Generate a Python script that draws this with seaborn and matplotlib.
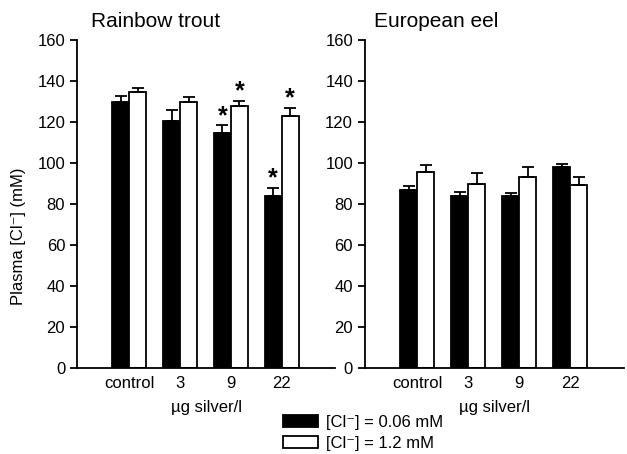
import matplotlib
matplotlib.use("Agg")
import matplotlib.pyplot as plt
import seaborn as sns
import pandas as pd
from matplotlib.patches import Patch

sns.set_style("ticks")
plt.rcParams['font.family'] = ['Liberation Sans', 'DejaVu Sans']
plt.rcParams['text.color'] = 'black'
plt.rcParams['axes.labelcolor'] = 'black'
plt.rcParams['xtick.color'] = 'black'
plt.rcParams['ytick.color'] = 'black'

groups = ["control", "3", "9", "22"]
series = ["[Cl\u207b] = 0.06 mM", "[Cl\u207b] = 1.2 mM"]

trout_low = [130, 120.5, 114.4, 84]
trout_low_err = [2.5, 5.4, 3.9, 4]
trout_high = [134.4, 129.6, 128, 123]
trout_high_err = [2.3, 2.4, 2.3, 3.7]
trout_star_low = [False, False, True, True]
trout_star_high = [False, False, True, True]

eel_low = [86.8, 83.7, 83.7, 97.9]
eel_low_err = [1.9, 2.1, 1.6, 1.8]
eel_high = [95.7, 89.9, 93.1, 89.5]
eel_high_err = [3.2, 5.1, 4.8, 3.7]
eel_star_low = [False] * 4
eel_star_high = [False] * 4

fig = plt.figure(figsize=(6.27, 4.54), dpi=100)
ax1 = fig.add_axes([0.1228, 0.1894, 0.4115, 0.7225])
ax2 = fig.add_axes([0.582, 0.1894, 0.413, 0.7225])


def panel(ax, low, lowe, high, highe, slow, shigh, title, title_x):
    df = pd.DataFrame({
        "group": groups * 2,
        "value": low + high,
        "series": [series[0]] * 4 + [series[1]] * 4,
    })
    sns.barplot(data=df, x="group", y="value", hue="series", order=groups,
                hue_order=series, palette=["black", "white"], edgecolor="black",
                linewidth=1.3, width=0.667, gap=0, errorbar=None, ax=ax,
                legend=False)
    errs = lowe + highe
    stars = slow + shigh
    vals = low + high
    for p, v, e, s in zip(ax.patches, vals, errs, stars):
        cx = p.get_x() + p.get_width() / 2
        ax.errorbar([cx], [v], yerr=[[0], [e]], fmt="none", ecolor="black",
                    elinewidth=1.3, capsize=4, capthick=1.3, zorder=3)
        if s:
            ax.text(cx, v + e + 1.2, "*", ha="center", va="baseline",
                    fontsize=18, fontweight="bold", color="black")
    ax.set_xlim(-1.03, 4.05)
    ax.set_ylim(0, 160)
    ax.set_yticks(range(0, 161, 20))
    ax.tick_params(axis="x", length=0, labelsize=12, pad=6)
    ax.tick_params(axis="y", length=5, width=1.3, labelsize=12, direction="out")
    ax.set_xlabel("\u00b5g silver/l", fontsize=12, labelpad=6)
    ax.set_ylabel("")
    for sp in ["top", "right"]:
        ax.spines[sp].set_visible(False)
    for sp in ["left", "bottom"]:
        ax.spines[sp].set_linewidth(1.3)
        ax.spines[sp].set_color("black")
    ax.set_title(title, fontsize=15, x=title_x, ha="left", pad=9)
    ax.set_facecolor("white")


panel(ax1, trout_low, trout_low_err, trout_high, trout_high_err,
      trout_star_low, trout_star_high, "Rainbow trout", 0.055)
panel(ax2, eel_low, eel_low_err, eel_high, eel_high_err,
      eel_star_low, eel_star_high, "European eel", 0.035)

fig.text(0.03, 0.48, "Plasma [Cl\u207b] (mM)", rotation=90, ha="center",
         va="center", fontsize=12)

handles = [Patch(facecolor="black", edgecolor="black", linewidth=1.3),
           Patch(facecolor="white", edgecolor="black", linewidth=1.3)]
fig.legend(handles, series, loc="center left", bbox_to_anchor=(0.44, 0.047),
           frameon=False, fontsize=12, handlelength=2.1, handleheight=0.75,
           handletextpad=0.5, labelspacing=0.35, borderaxespad=0)

fig.savefig("out.png", dpi=100, facecolor="white")
